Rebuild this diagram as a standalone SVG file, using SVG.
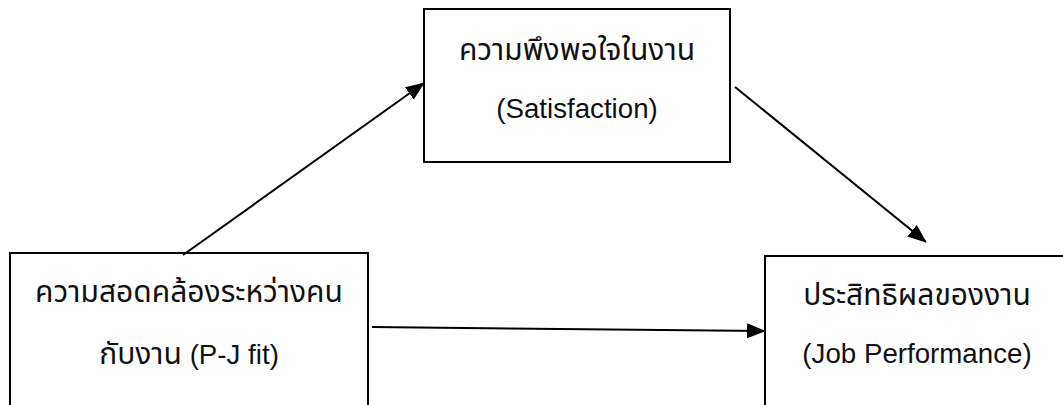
<svg xmlns="http://www.w3.org/2000/svg" width="1063" height="405" viewBox="0 0 1063 405">
<style>
.box{fill:#fff;stroke:#000;stroke-width:2}
.t{font-family:"Liberation Sans","Noto Sans Thai","Noto Sans","DejaVu Sans",sans-serif;font-size:27.7px;fill:#111;text-anchor:middle}
.th{font-size:30px}
.c{stroke:#000;stroke-width:2;fill:none;marker-end:url(#ah)}
</style>
<defs>
<marker id="ah" markerUnits="userSpaceOnUse" markerWidth="19" markerHeight="15" refX="18" refY="7.5" orient="auto">
<path d="M0,0 L19,7.5 L0,15 Z" fill="#000"/>
</marker>
</defs>
<rect width="1063" height="405" fill="#fff"/>
<g id="node-satisfaction">
<rect class="box" x="424" y="9" width="306" height="153"/>
<text class="t th" x="577" y="60">ความพึงพอใจในงาน</text>
<text class="t" x="577" y="118">(Satisfaction)</text>
</g>
<g id="node-pjfit">
<rect class="box" x="10" y="253" width="358" height="170"/>
<text class="t th" x="189" y="302">ความสอดคล้องระหว่างคน</text>
<text class="t" x="189" y="364"><tspan class="th">กับงาน</tspan> (P-J fit)</text>
</g>
<g id="node-performance">
<rect class="box" x="765" y="256" width="310" height="170"/>
<text class="t th" x="917" y="305">ประสิทธิผลของงาน</text>
<text class="t" x="917" y="363">(Job Performance)</text>
</g>
<g id="connectors">
<line class="c" x1="183" y1="255" x2="424" y2="83"/>
<line class="c" x1="735" y1="87" x2="926" y2="242"/>
<line class="c" x1="372" y1="327" x2="765" y2="331"/>
</g>
</svg>
